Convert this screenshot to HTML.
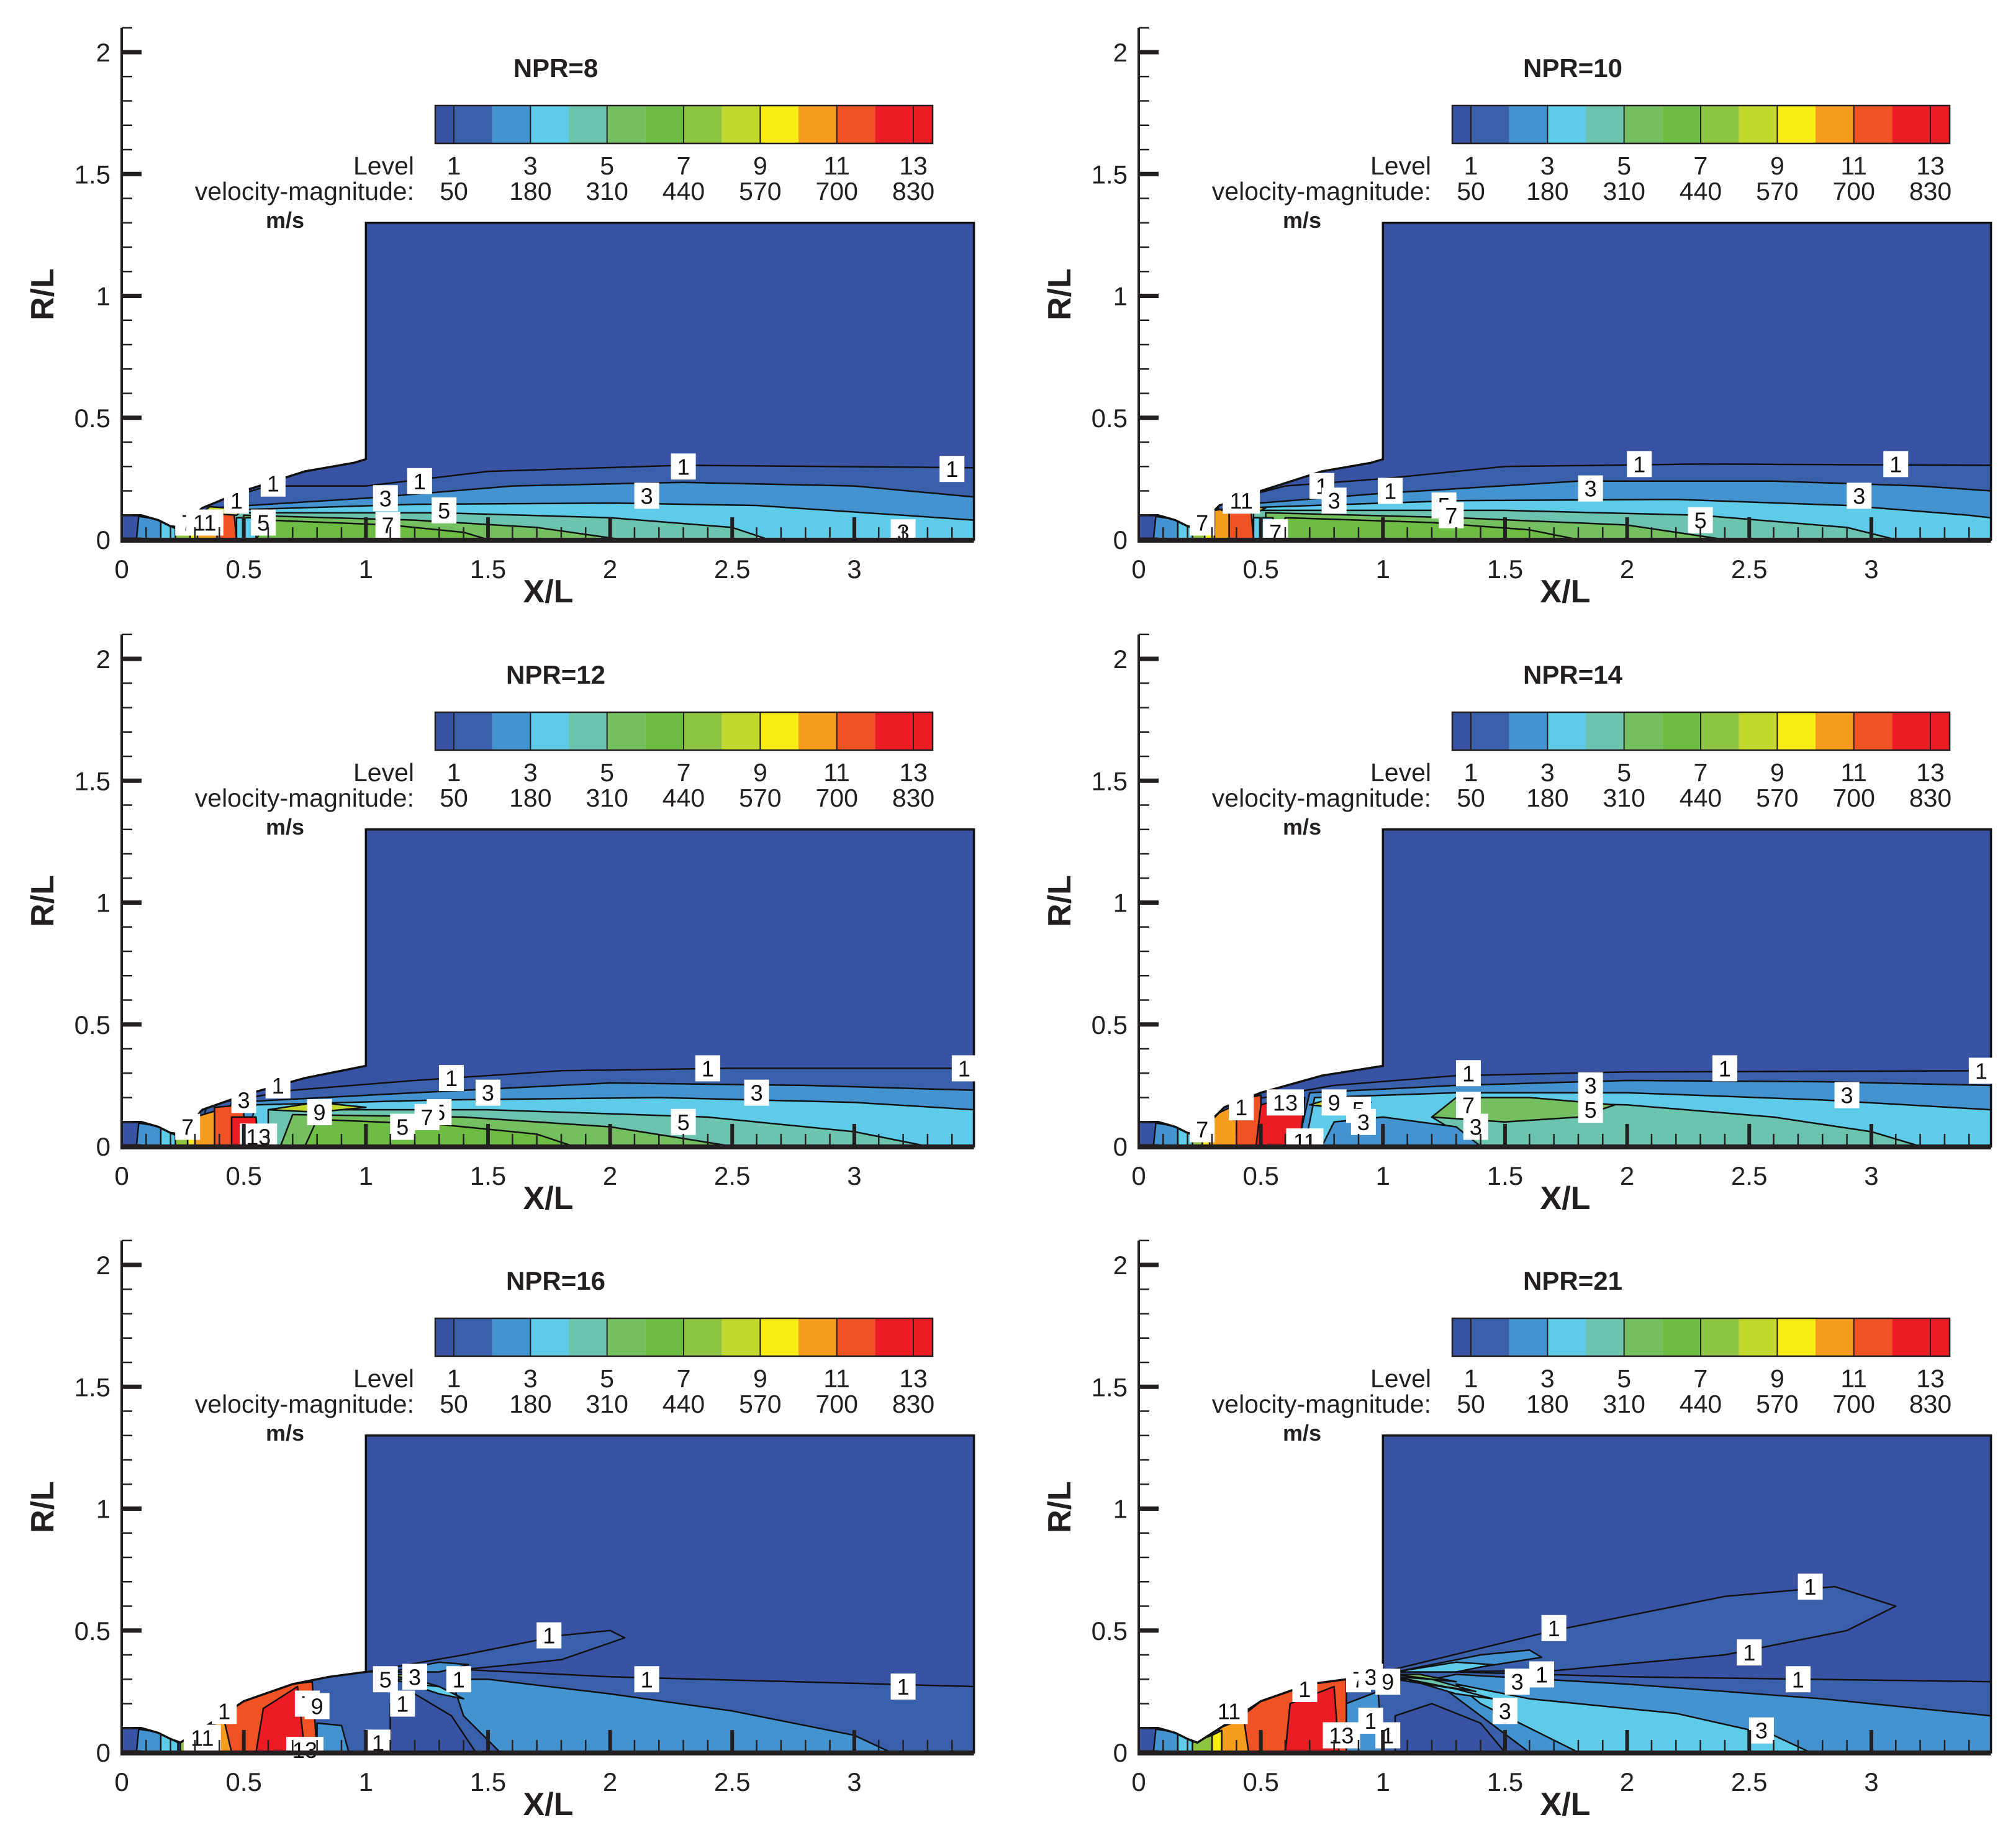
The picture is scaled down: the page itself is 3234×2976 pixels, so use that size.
<!DOCTYPE html>
<html><head><meta charset="utf-8"><style>
html,body{margin:0;padding:0;background:#fff}
svg{display:block}
text{font-family:"Liberation Sans",Arial,sans-serif}
</style></head>
<body>
<svg id="chart" width="3234" height="2976" viewBox="0 0 3234 2976" xmlns="http://www.w3.org/2000/svg"></svg>
<script>
const panelTitles = ["NPR=8","NPR=10","NPR=12","NPR=14","NPR=16","NPR=21"];
const levelLabels = ["1","3","5","7","9","11","13"];
const velocityLabels = ["50","180","310","440","570","700","830"];
const xTicks = [0,0.5,1,1.5,2,2.5,3];
const yTicks = [0,0.5,1,1.5,2];
const levelColors = ["#3953a4","#3a5fab","#4393d1","#5ecbe8","#6cc4ae","#74bf5f","#6dbd45","#8dc440","#c3d82d","#f7ec13","#f69d1e","#ef5323","#ec1c24","#ec1c24"];

const nozzleRegions = [
 [2,[[0.06,0],[0.07,0.095],[0.17,0.08],[0.17,0]]],
 [3,[[0.16,0],[0.16,0.075],[0.23,0.04],[0.23,0]]]
];

const p1Outline = [[0.24,0.05],[0.33,0.13],[0.5,0.2],[0.75,0.28],[0.95,0.315],[1,0.33]];
const p2Outline = [[0.24,0.05],[0.33,0.14],[0.5,0.2],[0.75,0.28],[0.95,0.315],[1,0.33]];
const p3Outline = [[0.24,0.05],[0.33,0.15],[0.5,0.21],[0.75,0.28],[1,0.33]];
const p4Outline = [[0.24,0.05],[0.35,0.16],[0.5,0.22],[0.75,0.29],[1,0.33]];
const p5Outline = [[0.24,0.04],[0.38,0.13],[0.5,0.21],[0.7,0.28],[0.85,0.31],[1,0.33]];
const p6Outline = [[0.24,0.04],[0.38,0.13],[0.5,0.21],[0.7,0.28],[0.85,0.3],[1,0.33]];

const p1Regions = [
 [1,[[0.3,0],[0.33,0.14],[0.6,0.22],[1.0,0.22],[1.5,0.28],[2.3,0.305],[3.49,0.295],[3.49,0]]],
 [2,[[0.35,0],[0.36,0.13],[1.0,0.17],[1.6,0.22],[2.3,0.235],[3.0,0.22],[3.49,0.175],[3.49,0]]],
 [3,[[0.4,0],[0.4,0.12],[1.2,0.145],[2.0,0.15],[2.6,0.14],[3.2,0.1],[3.49,0.08],[3.49,0]]],
 [4,[[0.45,0],[0.45,0.11],[1.3,0.11],[2.0,0.09],[2.5,0.05],[2.65,0]]],
 [5,[[0.5,0],[0.5,0.1],[1.2,0.08],[1.7,0.05],[2.05,0]]],
 [6,[[0.55,0],[0.6,0.08],[1.1,0.06],[1.4,0.03],[1.5,0]]],
 [7,[[0.22,0],[0.22,0.04],[0.3,0.09],[0.3,0]]],
 [9,[[0.28,0],[0.28,0.08],[0.32,0.11],[0.32,0]]],
 [10,[[0.31,0],[0.31,0.11],[0.4,0.11],[0.4,0]]],
 [11,[[0.39,0],[0.39,0.11],[0.46,0.11],[0.47,0]]],
 [8,[[0.33,0.11],[0.36,0.135],[0.5,0.125],[0.47,0.1]]],
 [3,[[0.47,0],[0.47,0.09],[0.55,0.09],[0.55,0]]]
];
const p2Regions = [
 [1,[[0.3,0],[0.33,0.15],[0.6,0.22],[1.0,0.25],[1.5,0.3],[2.3,0.31],[3.49,0.305],[3.49,0]]],
 [2,[[0.36,0],[0.37,0.14],[1.0,0.19],[1.8,0.24],[2.6,0.24],[3.2,0.22],[3.49,0.2],[3.49,0]]],
 [3,[[0.42,0],[0.42,0.13],[1.3,0.16],[2.2,0.165],[2.9,0.14],[3.4,0.1],[3.49,0.09],[3.49,0]]],
 [4,[[0.47,0],[0.47,0.12],[1.5,0.12],[2.3,0.1],[2.9,0.05],[3.1,0]]],
 [5,[[0.52,0],[0.52,0.11],[1.3,0.09],[2.0,0.06],[2.4,0]]],
 [6,[[0.58,0],[0.6,0.09],[1.2,0.07],[1.6,0.04],[1.8,0]]],
 [7,[[0.22,0],[0.22,0.04],[0.28,0.08],[0.28,0]]],
 [9,[[0.27,0],[0.27,0.08],[0.32,0.11],[0.32,0]]],
 [10,[[0.31,0],[0.31,0.12],[0.38,0.13],[0.38,0]]],
 [11,[[0.37,0],[0.37,0.13],[0.46,0.12],[0.47,0]]],
 [8,[[0.34,0.12],[0.38,0.145],[0.52,0.13],[0.48,0.11]]],
 [3,[[0.47,0],[0.47,0.09],[0.55,0.09],[0.55,0]]]
];
const p3Regions = [
 [1,[[0.3,0],[0.35,0.17],[0.7,0.23],[1.2,0.27],[1.8,0.31],[2.5,0.32],[3.49,0.32],[3.49,0]]],
 [2,[[0.4,0],[0.45,0.18],[1.2,0.22],[2.0,0.26],[2.8,0.25],[3.49,0.23],[3.49,0]]],
 [3,[[0.5,0],[0.55,0.17],[1.3,0.19],[2.2,0.2],[3.0,0.18],[3.49,0.15],[3.49,0]]],
 [4,[[0.6,0],[0.6,0.15],[1.5,0.15],[2.4,0.12],[3.0,0.06],[3.3,0]]],
 [5,[[0.65,0],[0.7,0.13],[1.4,0.12],[2.0,0.08],[2.5,0]]],
 [6,[[0.75,0],[0.8,0.11],[1.3,0.09],[1.7,0.05],[1.85,0]]],
 [8,[[0.6,0.15],[0.8,0.18],[1.0,0.16],[0.8,0.14]]],
 [7,[[0.22,0],[0.22,0.04],[0.28,0.08],[0.28,0]]],
 [9,[[0.27,0],[0.27,0.08],[0.31,0.11],[0.31,0]]],
 [10,[[0.3,0],[0.3,0.12],[0.4,0.15],[0.4,0]]],
 [11,[[0.38,0],[0.38,0.16],[0.5,0.17],[0.5,0]]],
 [12,[[0.45,0],[0.45,0.12],[0.55,0.12],[0.56,0]]],
 [3,[[0.56,0],[0.56,0.07],[0.62,0.07],[0.62,0]]]
];
const p4Regions = [
 [1,[[0.3,0],[0.4,0.18],[0.8,0.25],[1.3,0.29],[2.0,0.305],[3.49,0.31],[3.49,0]]],
 [2,[[0.65,0],[0.7,0.22],[1.3,0.25],[2.0,0.27],[2.8,0.265],[3.49,0.25],[3.49,0]]],
 [3,[[0.68,0],[0.72,0.2],[1.3,0.22],[2.0,0.22],[2.8,0.19],[3.49,0.15],[3.49,0]]],
 [4,[[1.4,0],[1.2,0.12],[1.5,0.18],[2.0,0.17],[2.6,0.12],[3.0,0.06],[3.2,0]]],
 [5,[[1.2,0.12],[1.3,0.2],[1.6,0.2],[1.95,0.17],[1.8,0.12],[1.5,0.1]]],
 [2,[[0.75,0],[0.8,0.1],[1.0,0.12],[1.3,0.08],[1.4,0]]],
 [7,[[0.22,0],[0.22,0.04],[0.27,0.08],[0.27,0]]],
 [9,[[0.26,0],[0.26,0.08],[0.3,0.11],[0.3,0]]],
 [10,[[0.29,0],[0.29,0.12],[0.42,0.18],[0.42,0]]],
 [11,[[0.4,0],[0.4,0.19],[0.5,0.21],[0.5,0]]],
 [12,[[0.48,0],[0.5,0.17],[0.6,0.2],[0.68,0.2],[0.66,0]]],
 [8,[[0.7,0.17],[0.8,0.2],[0.95,0.18],[0.8,0.16]]]
];
const p5Regions = [
 [1,[[0.78,0],[0.78,0.3],[1.0,0.33],[1.3,0.345],[2.0,0.31],[3.49,0.27],[3.49,0]]],
 [0,[[1.1,0],[1.1,0.2],[1.2,0.24],[1.35,0.15],[1.45,0]]],
 [2,[[1.55,0],[1.4,0.15],[1.35,0.3],[1.5,0.3],[2.0,0.24],[2.5,0.17],[3.0,0.07],[3.15,0]]],
 [2,[[0.8,0],[0.8,0.12],[0.9,0.11],[0.93,0]]],
 [11,[[0.38,0],[0.38,0.13],[0.5,0.21],[0.7,0.28],[0.78,0.29],[0.8,0]]],
 [12,[[0.55,0],[0.58,0.18],[0.72,0.27],[0.75,0]]],
 [10,[[0.33,0],[0.33,0.1],[0.42,0.13],[0.45,0]]],
 [9,[[0.3,0],[0.3,0.07],[0.35,0.09],[0.35,0]]],
 [7,[[0.24,0],[0.24,0.05],[0.3,0.07],[0.3,0]]],
 [1,[[1.0,0.33],[1.4,0.4],[1.8,0.48],[2.0,0.5],[2.06,0.47],[1.8,0.38],[1.4,0.34]]],
 [2,[[1.1,0.33],[1.3,0.37],[1.42,0.36],[1.3,0.33]]],
 [3,[[1.1,0.3],[1.3,0.27],[1.4,0.22],[1.3,0.24],[1.15,0.29]]],
 [4,[[1.1,0.3],[1.2,0.28],[1.3,0.27],[1.2,0.3]]],
 [5,[[1.1,0.315],[1.2,0.3],[1.15,0.32]]]
];
const p6Regions = [
 [1,[[0.85,0],[0.85,0.3],[1.0,0.33],[1.3,0.33],[2.0,0.31],[3.49,0.29],[3.49,0]]],
 [0,[[1.05,0],[1.05,0.15],[1.2,0.2],[1.4,0.12],[1.5,0]]],
 [2,[[1.6,0],[1.2,0.3],[1.3,0.32],[2.0,0.28],[2.8,0.22],[3.49,0.15],[3.49,0]]],
 [3,[[1.8,0],[1.4,0.2],[1.3,0.28],[1.6,0.22],[2.2,0.16],[2.6,0.07],[2.75,0]]],
 [2,[[0.85,0],[0.85,0.2],[0.98,0.25],[1.0,0]]],
 [11,[[0.4,0],[0.4,0.13],[0.5,0.21],[0.7,0.28],[0.85,0.3],[0.85,0]]],
 [12,[[0.6,0],[0.62,0.2],[0.8,0.27],[0.82,0]]],
 [10,[[0.33,0],[0.33,0.1],[0.43,0.14],[0.45,0]]],
 [9,[[0.3,0],[0.3,0.07],[0.34,0.09],[0.34,0]]],
 [7,[[0.22,0],[0.22,0.04],[0.3,0.07],[0.3,0]]],
 [1,[[1.0,0.33],[1.7,0.5],[2.4,0.64],[2.85,0.68],[3.1,0.6],[2.9,0.5],[2.4,0.4],[1.7,0.335]]],
 [2,[[1.05,0.33],[1.4,0.4],[1.6,0.42],[1.65,0.39],[1.4,0.35]]],
 [3,[[1.05,0.33],[1.3,0.37],[1.45,0.36],[1.3,0.33]]],
 [3,[[1.05,0.3],[1.3,0.26],[1.45,0.22],[1.3,0.24],[1.1,0.3]]],
 [4,[[1.05,0.31],[1.25,0.27],[1.38,0.25],[1.2,0.3]]],
 [5,[[1.05,0.32],[1.2,0.3],[1.3,0.29],[1.15,0.32]]]
];

const p1Labels = [[0.62,0.23,"1"],[0.47,0.16,"1"],[1.22,0.24,"1"],[2.3,0.3,"1"],[3.4,0.29,"1"],[1.08,0.17,"3"],[2.15,0.18,"3"],[3.2,0.03,"3"],[0.27,0.07,"7"],[0.34,0.07,"11"],[0.58,0.07,"5"],[1.32,0.12,"5"],[1.09,0.06,"7"]];
const p2Labels = [[0.75,0.22,"1"],[0.42,0.16,"11"],[1.03,0.2,"1"],[2.05,0.31,"1"],[3.1,0.31,"1"],[0.8,0.16,"3"],[1.85,0.21,"3"],[2.95,0.18,"3"],[0.26,0.07,"7"],[0.56,0.03,"7"],[1.25,0.14,"5"],[1.28,0.1,"7"],[2.3,0.08,"5"]];
const p3Labels = [[0.64,0.25,"1"],[0.5,0.19,"3"],[1.35,0.28,"1"],[2.4,0.32,"1"],[3.45,0.32,"1"],[1.5,0.22,"3"],[2.6,0.22,"3"],[0.27,0.08,"7"],[0.56,0.04,"13"],[0.81,0.14,"9"],[1.15,0.08,"5"],[1.3,0.14,"5"],[1.25,0.12,"7"],[2.3,0.1,"5"]];
const p4Labels = [[0.42,0.16,"1"],[0.6,0.18,"13"],[0.68,0.02,"11"],[0.8,0.18,"9"],[0.9,0.15,"5"],[0.92,0.1,"3"],[1.35,0.3,"1"],[2.4,0.32,"1"],[3.45,0.31,"1"],[1.85,0.25,"3"],[2.9,0.21,"3"],[1.35,0.17,"7"],[1.85,0.15,"5"],[1.38,0.08,"3"],[0.26,0.07,"7"]];
const p5Labels = [[0.42,0.17,"1"],[0.33,0.06,"11"],[0.76,0.2,"7"],[0.8,0.19,"9"],[1.08,0.3,"5"],[1.2,0.31,"3"],[1.38,0.3,"1"],[1.75,0.48,"1"],[2.15,0.3,"1"],[3.2,0.27,"1"],[1.15,0.2,"1"],[1.05,0.04,"1"],[0.75,0.01,"13"]];
const p6Labels = [[0.37,0.17,"11"],[0.68,0.26,"1"],[0.9,0.3,"7"],[0.95,0.31,"3"],[1.02,0.29,"9"],[1.7,0.51,"1"],[2.75,0.68,"1"],[2.5,0.41,"1"],[2.7,0.3,"1"],[1.65,0.32,"1"],[1.55,0.29,"3"],[1.5,0.17,"3"],[2.55,0.09,"3"],[0.95,0.13,"1"],[1.02,0.07,"1"],[0.83,0.07,"13"]];

const panels = [
 {ox:0,oy:0,outline:p1Outline,regions:p1Regions,labels:p1Labels},
 {ox:1638,oy:0,outline:p2Outline,regions:p2Regions,labels:p2Labels},
 {ox:0,oy:977,outline:p3Outline,regions:p3Regions,labels:p3Labels},
 {ox:1638,oy:977,outline:p4Outline,regions:p4Regions,labels:p4Labels},
 {ox:0,oy:1953,outline:p5Outline,regions:p5Regions,labels:p5Labels},
 {ox:1638,oy:1953,outline:p6Outline,regions:p6Regions,labels:p6Labels}
];

const NS = "http://www.w3.org/2000/svg";
const svg = document.getElementById('chart');
function mk(tag, attrs, parent){ const e=document.createElementNS(NS,tag); for(const k in attrs) e.setAttribute(k,attrs[k]); (parent||svg).appendChild(e); return e; }
const XMAX = 3.49, UX = 393.3, UY = 392.5;

panels.forEach((p, i) => {
  const X = v => p.ox + 196 + v*UX;
  const Y = r => p.oy + 869 - r*UY;
  const g = mk('g', {});
  
  
  const domainPts = [[0,0],[0,0.1],[0.08,0.1],[0.15,0.08],[0.2,0.055]].concat(p.outline, [[1,1.3],[XMAX,1.3],[XMAX,0]]);
  const ptsStr = arr => arr.map(q => X(q[0]).toFixed(1)+','+Y(q[1]).toFixed(1)).join(' ');
  const defs = mk('defs', {}, g);
  const cp = mk('clipPath', {id:'clip'+i}, defs);
  mk('polygon', {points: ptsStr(domainPts)}, cp);
  const field = mk('g', {'clip-path':'url(#clip'+i+')'}, g);
  
  
  const bg = mk('polygon', {points: ptsStr(domainPts), fill: levelColors[0]}, field);
  
  
  nozzleRegions.concat(p.regions).forEach(reg => {
    const poly = mk('polygon', {points: ptsStr(reg[1]), fill: levelColors[reg[0]], stroke:'#111', 'stroke-width':2.5, 'stroke-linejoin':'round'}, field);
    
    
  });
  const outl = mk('polygon', {points: ptsStr(domainPts), fill:'none', stroke:'#111', 'stroke-width':3.5}, g);
  
  
  p.labels.forEach(l => {
    const w = 20 + 20*l[2].length, cx = X(l[0]), cy = Y(l[1]);
    const lg = mk('g', {}, g);
    
    
    mk('rect', {x:cx-w/2, y:cy-21, width:w, height:42, fill:'#fff'}, lg);
    const t = mk('text', {x:cx, y:cy+13, 'text-anchor':'middle', 'font-size':36, fill:'#111'}, lg);
    t.textContent = l[2];
  });
  const ax = mk('g', {stroke:'#231f20'}, g);
  
  
  mk('line', {x1:X(0), y1:Y(0), x2:X(0), y2:Y(2.1), 'stroke-width':4}, ax);
  mk('line', {x1:X(0)-2, y1:Y(0)+1, x2:X(XMAX), y2:Y(0)+1, 'stroke-width':8}, ax);
  for (let k=0; k<=21; k++) {
    const major = k%5===0;
    mk('line', {x1:X(0), y1:Y(k/10), x2:X(0)+(major?32:17), y2:Y(k/10), 'stroke-width':major?7:2.5}, ax);
  }
  for (let k=1; k<=34; k++) {
    const major = k%5===0;
    mk('line', {x1:X(k/10), y1:Y(0), x2:X(k/10), y2:Y(0)-(major?36:20), 'stroke-width':major?6:2.5}, ax);
  }
  xTicks.forEach(v => {
    const t = mk('text', {x:X(v), y:Y(0)+62, 'text-anchor':'middle', 'font-size':42, fill:'#231f20'}, g);
    
    
    t.textContent = String(v);
  });
  yTicks.forEach(v => {
    const t = mk('text', {x:X(0)-18, y:Y(v)+15, 'text-anchor':'end', 'font-size':42, fill:'#231f20'}, g);
    
    
    t.textContent = String(v);
  });
  const xt = mk('text', {x:p.ox+883, y:p.oy+970, 'text-anchor':'middle', 'font-size':52, 'font-weight':'bold', fill:'#231f20'}, g);
  
  
  xt.textContent = 'X/L';
  const yt = mk('text', {x:p.ox+86, y:p.oy+474, 'text-anchor':'middle', 'font-size':52, 'font-weight':'bold', fill:'#231f20', transform:'rotate(-90 '+(p.ox+86)+' '+(p.oy+474)+')'}, g);
  
  
  yt.textContent = 'R/L';
  const tt = mk('text', {x:p.ox+895, y:p.oy+124, 'text-anchor':'middle', 'font-size':42, 'font-weight':'bold', fill:'#231f20'}, g);
  
  
  tt.textContent = panelTitles[i];
  const cb = mk('g', {}, g);
  
  
  const cbx0 = p.ox+701, cb1 = p.ox+731, cw = 61.67, cy0 = p.oy+170, ch = 61;
  for (let c=0; c<14; c++) {
    const x0 = c===0 ? cbx0 : cb1 + (c-1)*cw;
    const x1 = c===13 ? p.ox+1502 : cb1 + c*cw;
    const r = mk('rect', {x:x0, y:cy0, width:x1-x0, height:ch, fill:levelColors[c]}, cb);
    
    
  }
  for (let c=0; c<7; c++) mk('line', {x1:cb1+2*c*cw, y1:cy0, x2:cb1+2*c*cw, y2:cy0+ch, stroke:'#231f20','stroke-width':2}, cb);
  mk('rect', {x:cbx0, y:cy0, width:p.ox+1502-cbx0, height:ch, fill:'none', stroke:'#231f20','stroke-width':2.5}, cb);
  const lv = mk('text', {x:p.ox+667, y:p.oy+281, 'text-anchor':'end', 'font-size':41, fill:'#231f20'}, cb);
  lv.textContent = 'Level';
  const vm = mk('text', {x:p.ox+667, y:p.oy+322, 'text-anchor':'end', 'font-size':41, fill:'#231f20'}, cb);
  vm.textContent = 'velocity-magnitude:';
  levelLabels.forEach((s,c) => {
    const t = mk('text', {x:cb1+2*c*cw, y:p.oy+281, 'text-anchor':'middle', 'font-size':41, fill:'#231f20'}, cb);
    t.textContent = s;
  });
  velocityLabels.forEach((s,c) => {
    const t = mk('text', {x:cb1+2*c*cw, y:p.oy+322, 'text-anchor':'middle', 'font-size':41, fill:'#231f20'}, cb);
    t.textContent = s;
  });
  const ms = mk('text', {x:p.ox+459, y:p.oy+367, 'text-anchor':'middle', 'font-size':36, 'font-weight':'bold', fill:'#231f20'}, cb);
  ms.textContent = 'm/s';
});
</script>
</body></html>
